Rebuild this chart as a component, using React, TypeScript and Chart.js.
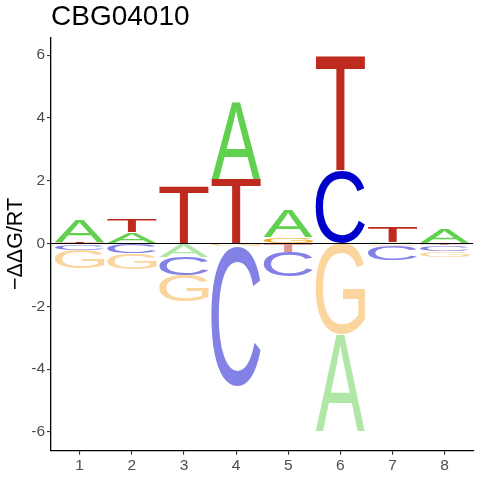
import { useEffect, useRef } from "react";
import { Chart, registerables } from "chart.js";

Chart.register(...registerables);

// positions of the motif and the -ddG/RT value of every base at each one
const positions = [1, 2, 3, 4, 5, 6, 7, 8];
const letters = ["A", "C", "G", "T"];
const ddgA = [0.7, 0.36, -0.42, 2.45, 0.84, -3.1, 0.04, 0.45];
const ddgC = [-0.2, -0.31, -0.58, -4.45, -0.8, 2.34, -0.46, -0.18];
const ddgG = [-0.59, -0.5, -0.85, -0.08, 0.2, -2.9, -0.07, -0.18];
const ddgT = [0.05, 0.42, 1.83, 2.05, -0.26, 3.64, 0.48, -0.06];
const yTicks = [-6, -4, -2, 0, 2, 4, 6];
const title = "CBG04010";

const values = [ddgA, ddgC, ddgG, ddgT];
const darkColors = ["#61D04F", "#0000CD", "#F5A623", "#BE2A1E"];
const lightColors = ["#B0E7A7", "#8481E6", "#FAD59D", "#DE958F"];

// stack letters away from zero, the biggest one furthest out
function stackRanges(): number[][][] {
  const ranges = letters.map(() => positions.map(() => [0, 0]));
  positions.forEach((_, p) => {
    const idx = letters.map((_, l) => l);
    const up = idx
      .filter((l) => values[l][p] >= 0)
      .sort((a, b) => values[a][p] - values[b][p]);
    let base = 0;
    up.forEach((l) => {
      ranges[l][p] = [base, base + values[l][p]];
      base += values[l][p];
    });
    const down = idx
      .filter((l) => values[l][p] < 0)
      .sort((a, b) => values[b][p] - values[a][p]);
    base = 0;
    down.forEach((l) => {
      ranges[l][p] = [base, base + values[l][p]];
      base += values[l][p];
    });
  });
  return ranges;
}

const logoPlugin = {
  id: "logoLetters",
  afterDatasetsDraw(chart: any) {
    const ctx: CanvasRenderingContext2D = chart.ctx;
    const area = chart.chartArea;
    ctx.save();
    ctx.beginPath();
    ctx.rect(area.left, area.top, area.right - area.left, area.bottom - area.top);
    ctx.clip();
    ctx.font = '200px "Liberation Sans", Arial, sans-serif';
    ctx.textAlign = "left";
    ctx.textBaseline = "alphabetic";
    chart.data.datasets.forEach((_: any, di: number) => {
      const meta = chart.getDatasetMeta(di);
      const letter = letters[di];
      const m = ctx.measureText(letter);
      const gw = m.actualBoundingBoxLeft + m.actualBoundingBoxRight;
      const gh = m.actualBoundingBoxAscent + m.actualBoundingBoxDescent;
      meta.data.forEach((el: any, j: number) => {
        const { x, y, base, width } = el.getProps(["x", "y", "base", "width"], true);
        const top = Math.min(y, base);
        const h = Math.abs(base - y);
        if (h < 0.3) return;
        ctx.save();
        ctx.translate(x - width / 2, top);
        ctx.scale(width / gw, h / gh);
        ctx.fillStyle = values[di][j] >= 0 ? darkColors[di] : lightColors[di];
        ctx.fillText(letter, m.actualBoundingBoxLeft, m.actualBoundingBoxAscent);
        ctx.restore();
      });
    });
    // zero line
    const y0 = chart.scales.y.getPixelForValue(0);
    ctx.strokeStyle = "#000000";
    ctx.lineWidth = 1;
    ctx.beginPath();
    ctx.moveTo(area.left, y0);
    ctx.lineTo(area.right, y0);
    ctx.stroke();
    ctx.restore();
  },
};

export default function App() {
  const chartRef = useRef<HTMLCanvasElement | null>(null);

  useEffect(() => {
    if (!chartRef.current) return;
    const ranges = stackRanges();
    const tickFont = { family: '"Liberation Sans", Arial, sans-serif', size: 15.5 };
    const myChart = new Chart(chartRef.current, {
      type: "bar",
      data: {
        datasets: letters.map((l, li) => ({
          label: l,
          data: positions.map((p, j) => ({ x: p, y: ranges[li][j] })) as any,
          backgroundColor: "rgba(0,0,0,0)",
          borderWidth: 0,
          grouped: false,
          categoryPercentage: 1,
          barPercentage: 0.945,
        })),
      },
      options: {
        responsive: false,
        animation: false,
        events: [],
        layout: { padding: { top: 0, left: 0, right: 6.7, bottom: 0 } },
        plugins: {
          legend: { display: false },
          tooltip: { enabled: false },
          title: {
            display: true,
            text: title,
            align: "start",
            fullSize: false,
            color: "#000000",
            font: { family: '"Liberation Sans", Arial, sans-serif', size: 28, weight: "normal" },
            padding: { top: 0, bottom: 3.7 },
          },
        },
        scales: {
          x: {
            type: "linear",
            min: 0.45,
            max: 8.55,
            offset: false,
            afterBuildTicks: (scale: any) => {
              scale.ticks = positions.map((v) => ({ value: v }));
            },
            afterFit: (scale: any) => {
              scale.height = 29.3;
            },
            grid: {
              offset: false,
              display: true,
              drawOnChartArea: false,
              drawTicks: true,
              tickLength: 4,
              color: "#333333",
              lineWidth: 1.1,
            },
            border: { display: true, color: "#000000", width: 1.3 },
            ticks: {
              color: "#4D4D4D",
              font: tickFont,
              padding: 1.5,
              maxRotation: 0,
              callback: (v: any) => String(v),
            },
          },
          y: {
            type: "linear",
            min: -6.6,
            max: 6.57,
            afterBuildTicks: (scale: any) => {
              scale.ticks = yTicks.map((v) => ({ value: v }));
            },
            afterFit: (scale: any) => {
              scale.width = 51;
            },
            grid: {
              display: true,
              drawOnChartArea: false,
              drawTicks: true,
              tickLength: 4,
              color: "#333333",
              lineWidth: 1.1,
            },
            border: { display: true, color: "#000000", width: 1.3 },
            ticks: {
              color: "#4D4D4D",
              font: tickFont,
              padding: 2,
              callback: (v: any) => String(v),
            },
            title: {
              display: true,
              text: "\u2212\u0394\u0394G/RT",
              color: "#000000",
              font: { family: '"Liberation Sans", Arial, sans-serif', size: 21.5 },
              padding: { top: 3.5, bottom: 0 },
            },
          },
        },
      },
      plugins: [logoPlugin],
    });
    return () => {
      myChart.destroy();
    };
  }, []);

  return (
    <div style={{ position: "absolute", left: 0, top: 0, width: 480, height: 480 }}>
      <canvas ref={chartRef} width={480} height={480} />
    </div>
  );
}
